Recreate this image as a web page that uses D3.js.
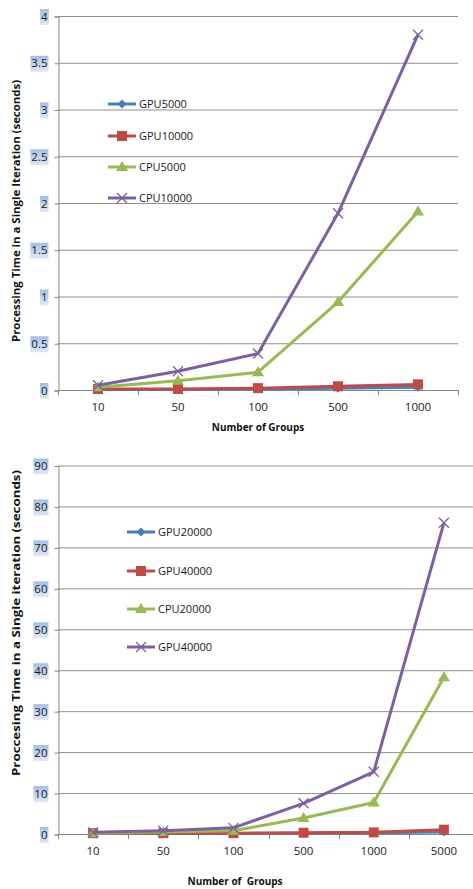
<!DOCTYPE html>
<html><head><meta charset="utf-8">
<script src="https://cdn.jsdelivr.net/npm/d3@7"></script>
<style>body{margin:0;background:#fff}svg{display:block}</style>
</head><body>
<svg id="c" width="473" height="889"></svg>
<script>
// ---- Top chart data ----
const topCategories = ["10","50","100","500","1000"];
const topTicks = [0,0.5,1,1.5,2,2.5,3,3.5,4];
const topTickLabels = ["0","0.5","1","1.5","2","2.5","3","3.5","4"];
const GPU5000  = [0.005,0.005,0.01,0.02,0.03];
const GPU10000 = [0.01,0.01,0.02,0.04,0.06];
const CPU5000  = [0.03,0.10,0.19,0.94,1.91];
const CPU10000 = [0.05,0.20,0.39,1.89,3.80];
const topNames = ["GPU5000","GPU10000","CPU5000","CPU10000"];

// ---- Bottom chart data ----
const botCategories = ["10","50","100","500","1000","5000"];
const botTicks = [0,10,20,30,40,50,60,70,80,90];
const GPU20000 = [0.1,0.1,0.1,0.2,0.3,0.5];
const GPU40000a = [0.2,0.2,0.2,0.3,0.4,1.05];
const CPU20000 = [0.2,0.5,0.8,3.9,7.7,38.3];
const GPU40000b = [0.4,0.8,1.5,7.5,15.2,76.0];
const botNames = ["GPU20000","GPU40000","CPU20000","GPU40000"];

const colors = ["#4a7ebb","#be4b48","#98b954","#7d60a0"];
const markers = ["diamond","square","triangle","x"];

const svg = d3.select("#c");
const defs = svg.append("defs");
const grad = defs.append("linearGradient").attr("id","lblg").attr("x1",0).attr("y1",0).attr("x2",0).attr("y2",1);
grad.append("stop").attr("offset","0%").attr("stop-color","#a4bfe6");
grad.append("stop").attr("offset","100%").attr("stop-color","#dfe8f6");

const FONT = "'Open Sans','Noto Sans',sans-serif";

function drawMarker(g, type, x, y, color){
  if(type==="diamond"){
    g.append("path").attr("d",`M${x},${y-4.5}L${x+4.5},${y}L${x},${y+4.5}L${x-4.5},${y}Z`).attr("fill",color);
  } else if(type==="square"){
    g.append("rect").attr("x",x-5).attr("y",y-5).attr("width",10).attr("height",10).attr("fill",color);
  } else if(type==="triangle"){
    g.append("path").attr("d",`M${x},${y-6}L${x+6},${y+4}L${x-6},${y+4}Z`).attr("fill",color);
  } else {
    g.append("path").attr("d",`M${x-5},${y-5}L${x+5},${y+5}M${x-5},${y+5}L${x+5},${y-5}`).attr("stroke",color).attr("stroke-width",1.3).attr("fill","none");
  }
}

function chart(cfg){
  const g = svg.append("g");
  const x = d3.scaleBand().domain(cfg.categories).range([cfg.left,cfg.right]).padding(0);
  const y = d3.scaleLinear().domain([0,cfg.max]).range([cfg.bottom,cfg.top]);
  // gridlines
  g.append("g").selectAll("line").data(cfg.ticks.slice(1)).join("line")
    .attr("x1",cfg.left).attr("x2",cfg.right).attr("y1",d=>y(d)+0.5).attr("y2",d=>y(d)+0.5)
    .attr("stroke","#8f8f8f").attr("stroke-width",1);
  // y axis
  const ya = d3.axisLeft(y).tickValues(cfg.ticks).tickSize(4).tickFormat((d,i)=>cfg.tickLabels[i]);
  const yg = g.append("g").attr("transform",`translate(${cfg.left+0.5},0.5)`).call(ya);
  yg.select(".domain").attr("stroke","#868686");
  yg.selectAll(".tick line").attr("stroke","#868686");
  yg.selectAll(".tick text").attr("x",-11).attr("font-family",FONT).attr("font-size",11.5).attr("fill","#1a1a1a");
  yg.selectAll(".tick").each(function(){
    const t = d3.select(this).select("text");
    const bb = t.node().getBBox();
    d3.select(this).insert("rect","text").attr("x",bb.x-1).attr("y",-8).attr("width",bb.width+2).attr("height",16).attr("fill","url(#lblg)");
  });
  // x axis
  const xa = d3.axisBottom(x).tickSize(0).tickPadding(12);
  const xg = g.append("g").attr("transform",`translate(0,${cfg.bottom+0.5})`).call(xa);
  xg.select(".domain").attr("stroke","#868686").attr("d",`M${cfg.left},0H${cfg.right}`);
  xg.selectAll(".tick text").attr("font-family",FONT).attr("font-size",11.5).attr("fill","#1a1a1a");
  // boundary tick marks
  const bounds = cfg.categories.map(c=>x(c)).concat([cfg.right]);
  g.append("g").selectAll("line").data(bounds).join("line")
    .attr("x1",d=>Math.round(d)+0.5).attr("x2",d=>Math.round(d)+0.5)
    .attr("y1",cfg.bottom).attr("y2",cfg.bottom+5).attr("stroke","#868686");
  // series
  const line = d3.line().x((d,i)=>x(cfg.categories[i])+x.bandwidth()/2).y(d=>y(d));
  cfg.series.forEach((s,k)=>{
    const sg = g.append("g");
    sg.append("path").attr("d",line(s)).attr("fill","none").attr("stroke",colors[k]).attr("stroke-width",3).attr("stroke-linejoin","round");
    s.forEach((v,i)=>drawMarker(sg,markers[k],x(cfg.categories[i])+x.bandwidth()/2,y(v),colors[k]));
  });
  // legend
  cfg.names.forEach((n,k)=>{
    const ly = cfg.legendY[k];
    const lg = g.append("g");
    lg.append("line").attr("x1",cfg.legendX).attr("x2",cfg.legendX+28).attr("y1",ly).attr("y2",ly).attr("stroke",colors[k]).attr("stroke-width",3);
    drawMarker(lg,markers[k],cfg.legendX+14,ly,colors[k]);
    lg.append("text").attr("x",cfg.legendX+31).attr("y",ly+4).attr("font-family",FONT).attr("font-size",11).attr("fill","#1a1a1a").text(n);
  });
  // titles
  g.append("text").attr("transform",`translate(${cfg.yTitleX},${cfg.yTitleC}) rotate(-90)`)
    .attr("text-anchor","middle").attr("font-family",FONT).attr("font-size",10).attr("font-weight","bold").attr("fill","#111")
    .attr("textLength",cfg.yTitleLen).attr("lengthAdjust","spacingAndGlyphs").text(cfg.yTitle);
  g.append("text").attr("x",cfg.xTitleX).attr("y",cfg.xTitleY).attr("text-anchor","middle").attr("font-family",FONT)
    .attr("font-size",10).attr("font-weight","bold").attr("fill","#111").attr("xml:space","preserve").style("white-space","pre").text(cfg.xTitle);
}

chart({categories:topCategories, ticks:topTicks, tickLabels:topTickLabels, max:4,
  left:58, right:458, top:16, bottom:390,
  series:[GPU5000,GPU10000,CPU5000,CPU10000], names:topNames,
  legendX:108, legendY:[104,136,167,198],
  yTitle:"Processing Time in a Single Iteration (seconds)", yTitleX:20, yTitleC:211, yTitleLen:262,
  xTitle:"Number of Groups", xTitleX:258, xTitleY:431});

chart({categories:botCategories, ticks:botTicks, tickLabels:botTicks.map(String), max:90,
  left:58, right:479, top:465.5, bottom:834,
  series:[GPU20000,GPU40000a,CPU20000,GPU40000b], names:botNames,
  legendX:127, legendY:[532,571,609,647],
  yTitle:"Proccesing Time in a Single iteration (seconds)", yTitleX:20, yTitleC:623, yTitleLen:306,
  xTitle:"Number of  Groups", xTitleX:235, xTitleY:885});
</script>
</body></html>
